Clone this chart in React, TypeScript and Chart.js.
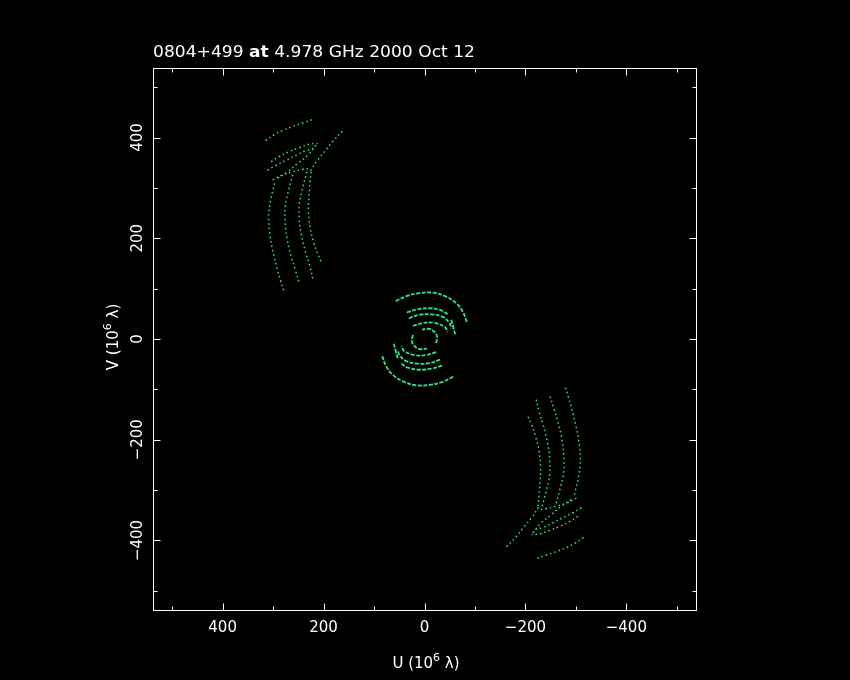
import React, { useEffect, useRef } from "react";
import { Chart, registerables } from "chart.js";

Chart.register(...registerables);

// ---- Data (u, v in units of 10^6 lambda). Conjugate points (-u,-v) are added for each track.
const TITLE_SOURCE = "0804+499";
const TITLE_FREQ = "4.978 GHz 2000 Oct 12";
const X_TICK_VALUES = [400, 200, 0, -200, -400];
const Y_TICK_VALUES = [400, 200, 0, -200, -400];
const AXIS_RANGE = 538;

// Space-baseline tracks (upper-left half; conjugates form the lower-right half)
const trackTop = [[315, 394], [297, 406], [281, 414], [261, 422], [241, 429], [221, 436]];
const trackDiag = [[226, 334], [212, 355], [198, 372], [182, 392], [162, 413]];
const trackV1 = [[297, 309], [305, 275], [309, 240], [306, 205], [300, 172], [292, 140], [285, 115], [278, 93]];
const trackV2 = [[261, 326], [269, 296], [276, 263], [276, 230], [272, 197], [264, 163], [256, 137], [248, 111]];
const trackV3 = [[233, 332], [241, 302], [248, 269], [248, 236], [243, 203], [235, 170], [227, 144], [220, 114]];
const trackV4 = [[225, 332], [228, 296], [230, 256], [227, 223], [220, 193], [212, 170], [205, 154]];
const trackF1 = [[304, 352], [288, 362], [268, 372], [248, 380], [228, 387], [212, 388]];
const trackF2 = [[311, 335], [294, 345], [274, 355], [254, 365], [235, 374], [218, 378]];
const trackF3 = [[301, 316], [281, 326], [261, 332], [241, 337], [225, 339]];
const trackZ = [[291, 319], [271, 332], [251, 349], [231, 365], [215, 385]];

// Ground-baseline tracks (central rings)
const ringC1 = [[57, 75], [36, 85], [10, 91], [-16, 92], [-43, 84], [-63, 71], [-76, 54], [-84, 33]];
const ringC2 = [[35, 53], [13, 59], [-10, 61], [-33, 57], [-46, 49]];
const ringC3 = [[-53, 38], [-57, 24], [-61, 8]];
const ringC4 = [[31, 41], [10, 48], [-13, 49], [-36, 44], [-50, 31], [-53, 21]];
const ringC5 = [[23, 26], [3, 32], [-20, 32], [-40, 24], [-46, 14]];
const ringC6 = [[23, 8], [25, -4], [20, -14], [9, -20], [-5, -19]];

const spaceTracks = [trackTop, trackDiag, trackV1, trackV2, trackV3, trackV4, trackF1, trackF2, trackF3, trackZ];
const groundTracks = [ringC1, ringC2, ringC3, ringC4, ringC5, ringC6];

const GREEN = "#2fe38d";
const FONT = "'DejaVu Sans', 'Liberation Sans', sans-serif";

function makeDatasets(tracks: number[][][], dash: number[], width: number) {
  const out: any[] = [];
  tracks.forEach((t) => {
    [1, -1].forEach((s) => {
      out.push({
        data: t.map(([u, v]) => ({ x: s * u, y: s * v })),
        showLine: true,
        borderColor: GREEN,
        backgroundColor: GREEN,
        borderWidth: width,
        borderDash: dash,
        pointRadius: 0,
        tension: 0.4,
      });
    });
  });
  return out;
}

const fmt = (v: number) => (v < 0 ? "\u2212" + Math.abs(v) : String(v));

const pgplotAxes = {
  id: "pgplotAxes",
  beforeDraw(chart: any) {
    const ctx = chart.ctx;
    ctx.save();
    ctx.fillStyle = "#000";
    ctx.fillRect(0, 0, chart.width, chart.height);
    ctx.restore();
  },
  afterDraw(chart: any) {
    const ctx = chart.ctx;
    const { left, right, top, bottom } = chart.chartArea;
    const xs = chart.scales.x;
    const ys = chart.scales.y;
    ctx.save();
    ctx.strokeStyle = "#fff";
    ctx.fillStyle = "#fff";
    ctx.lineWidth = 1;
    const L = Math.round(left) + 0.5;
    const R = Math.round(right) + 0.5;
    const T = Math.round(top) + 0.5;
    const B = Math.round(bottom) + 0.5;
    ctx.strokeRect(L, T, R - L, B - T);
    ctx.beginPath();
    for (let v = -500; v <= 500; v += 100) {
      const len = v % 200 === 0 ? 7 : 4;
      const px = Math.round(xs.getPixelForValue(v)) + 0.5;
      ctx.moveTo(px, B); ctx.lineTo(px, B - len);
      ctx.moveTo(px, T); ctx.lineTo(px, T + len);
      const py = Math.round(ys.getPixelForValue(v)) + 0.5;
      ctx.moveTo(L, py); ctx.lineTo(L + len, py);
      ctx.moveTo(R, py); ctx.lineTo(R - len, py);
    }
    ctx.stroke();

    ctx.font = `15px ${FONT}`;
    ctx.textAlign = "center";
    ctx.textBaseline = "alphabetic";
    X_TICK_VALUES.forEach((v) => {
      ctx.fillText(fmt(v), xs.getPixelForValue(v), 632);
    });
    Y_TICK_VALUES.forEach((v) => {
      ctx.save();
      ctx.translate(142, ys.getPixelForValue(v));
      ctx.rotate(-Math.PI / 2);
      ctx.fillText(fmt(v), 0, 0);
      ctx.restore();
    });

    // axis titles with superscript
    const drawTitle = (lead: string, cx: number, cy: number, rot: boolean) => {
      ctx.save();
      ctx.translate(cx, cy);
      if (rot) ctx.rotate(-Math.PI / 2);
      ctx.textAlign = "left";
      const f1 = `15px ${FONT}`;
      const f2 = `11px ${FONT}`;
      ctx.font = f1;
      const a = lead + " (10";
      const c = " \u03bb)";
      const wa = ctx.measureText(a).width;
      const wc = ctx.measureText(c).width;
      ctx.font = f2;
      const wb = ctx.measureText("6").width;
      const total = wa + wb + wc;
      let x = -total / 2;
      ctx.font = f1;
      ctx.fillText(a, x, 0);
      x += wa;
      ctx.font = f2;
      ctx.fillText("6", x, -7);
      x += wb;
      ctx.font = f1;
      ctx.fillText(c, x, 0);
      ctx.restore();
    };
    drawTitle("U", 426, 668, false);
    drawTitle("V", 118, 337, true);

    // main title
    const p1 = TITLE_SOURCE + " ";
    const p2 = "at";
    const p3 = " " + TITLE_FREQ;
    ctx.textAlign = "left";
    ctx.font = `15px ${FONT}`;
    const w1 = ctx.measureText(p1).width;
    const w3 = ctx.measureText(p3).width;
    ctx.font = `bold 15px ${FONT}`;
    const w2 = ctx.measureText(p2).width;
    const sx = 322 / (w1 + w2 + w3);
    ctx.save();
    ctx.translate(153, 57);
    ctx.scale(sx, 1);
    ctx.font = `15px ${FONT}`;
    ctx.fillText(p1, 0, 0);
    ctx.font = `bold 15px ${FONT}`;
    ctx.fillText(p2, w1, 0);
    ctx.font = `15px ${FONT}`;
    ctx.fillText(p3, w1 + w2, 0);
    ctx.restore();
    ctx.restore();
  },
};

export default function App() {
  const ref = useRef<HTMLCanvasElement>(null);
  useEffect(() => {
    if (!ref.current) return;
    const chart = new Chart(ref.current, {
      type: "scatter",
      data: {
        datasets: [
          ...makeDatasets(spaceTracks, [1.5, 3], 1.5),
          ...makeDatasets(groundTracks, [4, 1.5], 1.8),
        ],
      },
      options: {
        responsive: false,
        maintainAspectRatio: false,
        animation: false,
        layout: { padding: { left: 153, right: 154, top: 68, bottom: 70 } },
        scales: {
          x: { type: "linear", reverse: true, min: -AXIS_RANGE, max: AXIS_RANGE, display: false },
          y: { type: "linear", min: -AXIS_RANGE, max: AXIS_RANGE, display: false },
        },
        plugins: { legend: { display: false }, tooltip: { enabled: false } },
      },
      plugins: [pgplotAxes],
    });
    return () => chart.destroy();
  }, []);
  return (
    <div style={{ position: "fixed", left: 0, top: 0, width: 850, height: 680, background: "#000" }}>
      <canvas ref={ref} width={850} height={680} style={{ display: "block" }} />
    </div>
  );
}
